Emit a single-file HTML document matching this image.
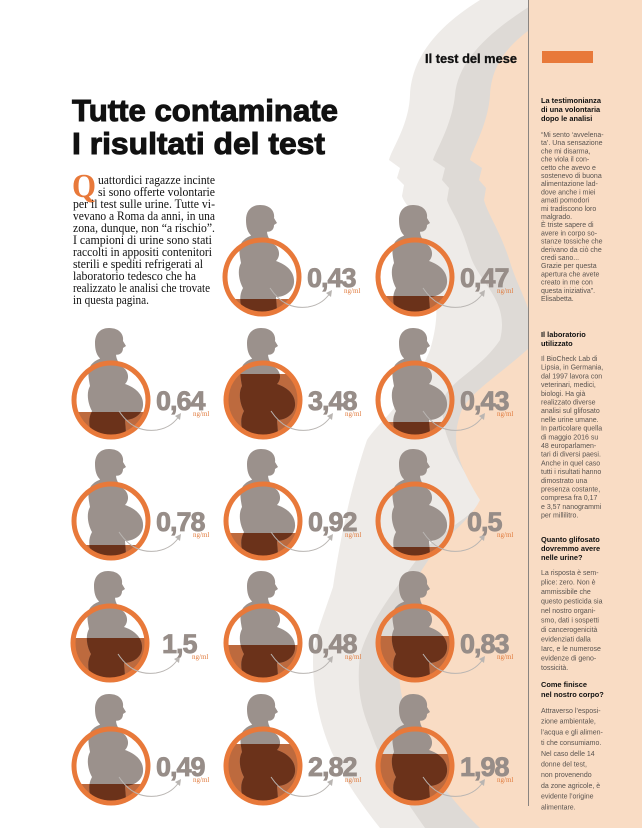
<!DOCTYPE html>
<html><head><meta charset="utf-8">
<style>
html,body{margin:0;padding:0;background:#fff;}
svg{display:block;}
.sb{font-family:"Liberation Sans",sans-serif;font-size:7px;fill:#5a5450;}
.sh{font-family:"Liberation Sans",sans-serif;font-size:7.4px;font-weight:bold;fill:#111;}
.num{font-family:"Liberation Sans",sans-serif;font-size:27px;font-weight:bold;fill:#978d88;stroke:#978d88;stroke-width:0.8;letter-spacing:-1px;}
.ng{font-family:"Liberation Serif",serif;font-size:7px;fill:#e07a3c;}
.p{font-family:"Liberation Serif",serif;font-size:12.2px;fill:#111;}
</style></head>
<body>
<svg width="642" height="828" viewBox="0 0 642 828" xmlns="http://www.w3.org/2000/svg">
<defs>
  <clipPath id="cc"><circle cx="0" cy="0" r="35"/></clipPath>
  <clipPath id="bc"><circle cx="0" cy="0" r="35"/><rect x="-60" y="-100" width="120" height="80"/></clipPath>
  <clipPath id="sc"><path d="M -7,-46 L 5,-46 C 5,-40 9,-35 14,-31 C 19,-25 17,-19 14,-16 C 26,-12 33,-4 32,6 C 31,15 22,20 14,20 L 16,45 L -16,45 C -20,32 -25,22 -19,11 C -23,4 -25,-7 -21,-14 C -23,-25 -25,-34 -14,-40 C -9,-42 -7,-44 -7,-46 Z"/></clipPath>
  <g id="sil" fill="#9b918c">
    <path d="M -7,-46 L 5,-46 C 5,-40 9,-35 14,-31 C 19,-25 17,-19 14,-16 C 26,-12 33,-4 32,6 C 31,15 22,20 14,20 L 16,45 L -16,45 C -20,32 -25,22 -19,11 C -23,4 -25,-7 -21,-14 C -23,-25 -25,-34 -14,-40 C -9,-42 -7,-44 -7,-46 Z"/>
    <path d="M -2,-72 C 9,-72 13,-65 12,-59 L 15,-54 L 12,-52 C 12,-46 7,-44 2,-46 L 5,-42 L -9,-40 C -15,-44 -16,-51 -16,-57 C -16,-66 -11,-72 -2,-72 Z"/>
  </g>
  <g id="arr" fill="none" stroke="#b9b5b2" stroke-width="1">
    <path d="M 8,11 C 18,26 30,32 46,30 C 58,28 64,22 69,15"/>
    <path d="M 64,16 L 70,13 L 69,20" fill="#b9b5b2" stroke="none"/>
  </g>
</defs>

<path fill="#eeebe8" d="M 480,0 C 440,25 412,55 410,95 C 409,125 392,148 389,160 L 400,168 L 397,178 L 404,185 L 402,196 C 405,206 417,212 422,240 C 430,280 445,300 430,350 C 410,400 380,420 367,440 C 350,490 340,540 333,587 C 322,620 313,640 313,660 C 313,690 318,710 322,725 C 332,760 350,790 380,828 L 642,828 L 642,0 Z"/>
<path fill="#dedad6" d="M 540,0 C 490,30 458,60 455,95 C 452,125 436,150 433,160 L 445,168 L 442,180 L 449,188 L 447,200 C 450,210 460,220 470,255 C 480,285 510,300 500,340 C 480,370 450,380 443,400 C 440,430 450,450 482,500 C 470,520 440,530 420,555 C 395,590 370,620 360,655 C 356,690 362,710 370,730 C 380,760 398,790 425,828 L 642,828 L 642,0 Z"/>
<path fill="#f9dcc4" d="M 580,0 C 520,30 492,55 490,95 C 488,125 472,150 470,160 L 482,168 L 479,180 L 486,188 L 484,200 C 488,215 500,230 510,262 C 520,295 540,320 530,347 C 500,375 465,395 460,415 C 452,440 455,460 480,500 C 470,520 448,535 433,553 C 415,580 402,600 400,625 C 396,650 397,680 407,720 C 418,750 440,790 480,828 L 642,828 L 642,0 Z"/>
<rect x="528" y="0" width="114" height="828" fill="#f9dcc4"/>
<line x1="528.5" y1="0" x2="528.5" y2="806" stroke="#8a8480" stroke-width="1"/>

<text x="425" y="63" font-family="Liberation Sans,sans-serif" font-size="13" font-weight="bold" fill="#111" stroke="#111" stroke-width="0.3" textLength="92" lengthAdjust="spacingAndGlyphs">Il test del mese</text>
<rect x="542" y="51" width="51" height="12" fill="#e8793a"/>

<text x="72" y="121" font-family="Liberation Sans,sans-serif" font-size="31" font-weight="bold" fill="#111" stroke="#111" stroke-width="1" textLength="266" lengthAdjust="spacingAndGlyphs">Tutte contaminate</text>
<text x="72" y="154" font-family="Liberation Sans,sans-serif" font-size="31" font-weight="bold" fill="#111" stroke="#111" stroke-width="1" textLength="253" lengthAdjust="spacingAndGlyphs">I risultati del test</text>

<text x="72" y="197" font-family="Liberation Serif,serif" font-size="34" font-weight="bold" fill="#e8793a" textLength="24" lengthAdjust="spacingAndGlyphs">Q</text>
<text class="p" x="98" y="184" textLength="117" lengthAdjust="spacingAndGlyphs">uattordici ragazze incinte</text>
<text class="p" x="98" y="196" textLength="117" lengthAdjust="spacingAndGlyphs">si sono offerte volontarie</text>
<text class="p" x="73" y="208" textLength="142" lengthAdjust="spacingAndGlyphs">per il test sulle urine. Tutte vi-</text>
<text class="p" x="73" y="220" textLength="142" lengthAdjust="spacingAndGlyphs">vevano a Roma da anni, in una</text>
<text class="p" x="73" y="232" textLength="142" lengthAdjust="spacingAndGlyphs">zona, dunque, non “a rischio”.</text>
<text class="p" x="73" y="244" textLength="139" lengthAdjust="spacingAndGlyphs">I campioni di urine sono stati</text>
<text class="p" x="73" y="256" textLength="139" lengthAdjust="spacingAndGlyphs">raccolti in appositi contenitori</text>
<text class="p" x="73" y="268" textLength="130" lengthAdjust="spacingAndGlyphs">sterili e spediti refrigerati al</text>
<text class="p" x="73" y="280" textLength="123" lengthAdjust="spacingAndGlyphs">laboratorio tedesco che ha</text>
<text class="p" x="73" y="292" textLength="137" lengthAdjust="spacingAndGlyphs">realizzato le analisi che trovate</text>
<text class="p" x="73" y="304" textLength="76" lengthAdjust="spacingAndGlyphs">in questa pagina.</text>

<g transform="translate(262,277)">
 <g clip-path="url(#cc)"><rect x="-40" y="22" width="80" height="60" fill="#bd6a3e"/></g>
 <g clip-path="url(#bc)"><use href="#sil"/></g>
 <g clip-path="url(#cc)"><g clip-path="url(#sc)"><rect x="-40" y="22" width="80" height="60" fill="#6b321a"/></g></g>
 <circle r="37" fill="none" stroke="#e8793a" stroke-width="5"/>
 <use href="#arr"/>
 <text class="num" x="45" y="10">0,43</text><text class="ng" x="82" y="16">ng/ml</text>
</g>
<g transform="translate(415,277)">
 <g clip-path="url(#cc)"><rect x="-40" y="19" width="80" height="60" fill="#bd6a3e"/></g>
 <g clip-path="url(#bc)"><use href="#sil"/></g>
 <g clip-path="url(#cc)"><g clip-path="url(#sc)"><rect x="-40" y="19" width="80" height="60" fill="#6b321a"/></g></g>
 <circle r="37" fill="none" stroke="#e8793a" stroke-width="5"/>
 <use href="#arr"/>
 <text class="num" x="45" y="10">0,47</text><text class="ng" x="82" y="16">ng/ml</text>
</g>

<g transform="translate(111,400)">
 <g clip-path="url(#cc)"><rect x="-40" y="12" width="80" height="60" fill="#bd6a3e"/></g>
 <g clip-path="url(#bc)"><use href="#sil"/></g>
 <g clip-path="url(#cc)"><g clip-path="url(#sc)"><rect x="-40" y="12" width="80" height="60" fill="#6b321a"/></g></g>
 <circle r="37" fill="none" stroke="#e8793a" stroke-width="5"/>
 <use href="#arr"/>
 <text class="num" x="45" y="10">0,64</text><text class="ng" x="82" y="16">ng/ml</text>
</g>
<g transform="translate(263,400)">
 <g clip-path="url(#cc)"><rect x="-40" y="-26" width="80" height="80" fill="#bd6a3e"/></g>
 <g clip-path="url(#bc)"><use href="#sil"/></g>
 <g clip-path="url(#cc)"><g clip-path="url(#sc)"><rect x="-40" y="-26" width="80" height="80" fill="#6b321a"/></g></g>
 <circle r="37" fill="none" stroke="#e8793a" stroke-width="5"/>
 <use href="#arr"/>
 <text class="num" x="45" y="10">3,48</text><text class="ng" x="82" y="16">ng/ml</text>
</g>
<g transform="translate(415,400)">
 <g clip-path="url(#cc)"><rect x="-40" y="22" width="80" height="60" fill="#bd6a3e"/></g>
 <g clip-path="url(#bc)"><use href="#sil"/></g>
 <g clip-path="url(#cc)"><g clip-path="url(#sc)"><rect x="-40" y="22" width="80" height="60" fill="#6b321a"/></g></g>
 <circle r="37" fill="none" stroke="#e8793a" stroke-width="5"/>
 <use href="#arr"/>
 <text class="num" x="45" y="10">0,43</text><text class="ng" x="82" y="16">ng/ml</text>
</g>

<g transform="translate(111,521)">
 <g clip-path="url(#cc)"><rect x="-40" y="24" width="80" height="60" fill="#bd6a3e"/></g>
 <g clip-path="url(#bc)"><use href="#sil"/></g>
 <g clip-path="url(#cc)"><g clip-path="url(#sc)"><rect x="-40" y="24" width="80" height="60" fill="#6b321a"/></g></g>
 <circle r="37" fill="none" stroke="#e8793a" stroke-width="5"/>
 <use href="#arr"/>
 <text class="num" x="45" y="10">0,78</text><text class="ng" x="82" y="16">ng/ml</text>
</g>
<g transform="translate(263,521)">
 <g clip-path="url(#cc)"><rect x="-40" y="12" width="80" height="60" fill="#bd6a3e"/></g>
 <g clip-path="url(#bc)"><use href="#sil"/></g>
 <g clip-path="url(#cc)"><g clip-path="url(#sc)"><rect x="-40" y="12" width="80" height="60" fill="#6b321a"/></g></g>
 <circle r="37" fill="none" stroke="#e8793a" stroke-width="5"/>
 <use href="#arr"/>
 <text class="num" x="45" y="10">0,92</text><text class="ng" x="82" y="16">ng/ml</text>
</g>
<g transform="translate(415,521)">
 <g clip-path="url(#cc)"><rect x="-40" y="26" width="80" height="60" fill="#bd6a3e"/></g>
 <g clip-path="url(#bc)"><use href="#sil"/></g>
 <g clip-path="url(#cc)"><g clip-path="url(#sc)"><rect x="-40" y="26" width="80" height="60" fill="#6b321a"/></g></g>
 <circle r="37" fill="none" stroke="#e8793a" stroke-width="5"/>
 <use href="#arr"/>
 <text class="num" x="52" y="10">0,5</text><text class="ng" x="82" y="16">ng/ml</text>
</g>

<g transform="translate(110,643)">
 <g clip-path="url(#cc)"><rect x="-40" y="-5" width="80" height="60" fill="#bd6a3e"/></g>
 <g clip-path="url(#bc)"><use href="#sil"/></g>
 <g clip-path="url(#cc)"><g clip-path="url(#sc)"><rect x="-40" y="-5" width="80" height="60" fill="#6b321a"/></g></g>
 <circle r="37" fill="none" stroke="#e8793a" stroke-width="5"/>
 <use href="#arr"/>
 <text class="num" x="52" y="10">1,5</text><text class="ng" x="82" y="16">ng/ml</text>
</g>
<g transform="translate(263,643)">
 <g clip-path="url(#cc)"><rect x="-40" y="2" width="80" height="60" fill="#bd6a3e"/></g>
 <g clip-path="url(#bc)"><use href="#sil"/></g>
 <g clip-path="url(#cc)"><g clip-path="url(#sc)"><rect x="-40" y="2" width="80" height="60" fill="#6b321a"/></g></g>
 <circle r="37" fill="none" stroke="#e8793a" stroke-width="5"/>
 <use href="#arr"/>
 <text class="num" x="45" y="10">0,48</text><text class="ng" x="82" y="16">ng/ml</text>
</g>
<g transform="translate(415,643)">
 <g clip-path="url(#cc)"><rect x="-40" y="-7" width="80" height="60" fill="#bd6a3e"/></g>
 <g clip-path="url(#bc)"><use href="#sil"/></g>
 <g clip-path="url(#cc)"><g clip-path="url(#sc)"><rect x="-40" y="-7" width="80" height="60" fill="#6b321a"/></g></g>
 <circle r="37" fill="none" stroke="#e8793a" stroke-width="5"/>
 <use href="#arr"/>
 <text class="num" x="45" y="10">0,83</text><text class="ng" x="82" y="16">ng/ml</text>
</g>

<g transform="translate(111,766)">
 <g clip-path="url(#cc)"><rect x="-40" y="18" width="80" height="60" fill="#bd6a3e"/></g>
 <g clip-path="url(#bc)"><use href="#sil"/></g>
 <g clip-path="url(#cc)"><g clip-path="url(#sc)"><rect x="-40" y="18" width="80" height="60" fill="#6b321a"/></g></g>
 <circle r="37" fill="none" stroke="#e8793a" stroke-width="5"/>
 <use href="#arr"/>
 <text class="num" x="45" y="10">0,49</text><text class="ng" x="82" y="16">ng/ml</text>
</g>
<g transform="translate(263,766)">
 <g clip-path="url(#cc)"><rect x="-40" y="-22" width="80" height="80" fill="#bd6a3e"/></g>
 <g clip-path="url(#bc)"><use href="#sil"/></g>
 <g clip-path="url(#cc)"><g clip-path="url(#sc)"><rect x="-40" y="-22" width="80" height="80" fill="#6b321a"/></g></g>
 <circle r="37" fill="none" stroke="#e8793a" stroke-width="5"/>
 <use href="#arr"/>
 <text class="num" x="45" y="10">2,82</text><text class="ng" x="82" y="16">ng/ml</text>
</g>
<g transform="translate(415,766)">
 <g clip-path="url(#cc)"><rect x="-40" y="-12" width="80" height="80" fill="#bd6a3e"/></g>
 <g clip-path="url(#bc)"><use href="#sil"/></g>
 <g clip-path="url(#cc)"><g clip-path="url(#sc)"><rect x="-40" y="-12" width="80" height="80" fill="#6b321a"/></g></g>
 <circle r="37" fill="none" stroke="#e8793a" stroke-width="5"/>
 <use href="#arr"/>
 <text class="num" x="45" y="10">1,98</text><text class="ng" x="82" y="16">ng/ml</text>
</g>

<text class="sh" x="541" y="103">La testimonianza</text>
<text class="sh" x="541" y="112">di una volontaria</text>
<text class="sh" x="541" y="121">dopo le analisi</text>
<g class="sb">
<text x="541" y="137">“Mi sento ‘avvelena-</text>
<text x="541" y="145.2">ta’. Una sensazione</text>
<text x="541" y="153.4">che mi disarma,</text>
<text x="541" y="161.6">che viola il con-</text>
<text x="541" y="169.8">cetto che avevo e</text>
<text x="541" y="178">sostenevo di buona</text>
<text x="541" y="186.2">alimentazione lad-</text>
<text x="541" y="194.4">dove anche i miei</text>
<text x="541" y="202.6">amati pomodori</text>
<text x="541" y="210.8">mi tradiscono loro</text>
<text x="541" y="219">malgrado.</text>
<text x="541" y="227.2">È triste sapere di</text>
<text x="541" y="235.4">avere in corpo so-</text>
<text x="541" y="243.6">stanze tossiche che</text>
<text x="541" y="251.8">derivano da ciò che</text>
<text x="541" y="260">credi sano...</text>
<text x="541" y="268.2">Grazie per questa</text>
<text x="541" y="276.4">apertura che avete</text>
<text x="541" y="284.6">creato in me con</text>
<text x="541" y="292.8">questa iniziativa”.</text>
<text x="541" y="301">Elisabetta.</text>
</g>

<text class="sh" x="541" y="337">Il laboratorio</text>
<text class="sh" x="541" y="346">utilizzato</text>
<g class="sb">
<text x="541" y="361">Il BioCheck Lab di</text>
<text x="541" y="369.7">Lipsia, in Germania,</text>
<text x="541" y="378.4">dal 1997 lavora con</text>
<text x="541" y="387.1">veterinari, medici,</text>
<text x="541" y="395.8">biologi. Ha già</text>
<text x="541" y="404.5">realizzato diverse</text>
<text x="541" y="413.2">analisi sul glifosato</text>
<text x="541" y="421.9">nelle urine umane.</text>
<text x="541" y="430.6">In particolare quella</text>
<text x="541" y="439.3">di maggio 2016 su</text>
<text x="541" y="448">48 europarlamen-</text>
<text x="541" y="456.7">tari di diversi paesi.</text>
<text x="541" y="465.4">Anche in quel caso</text>
<text x="541" y="474.1">tutti i risultati hanno</text>
<text x="541" y="482.8">dimostrato una</text>
<text x="541" y="491.5">presenza costante,</text>
<text x="541" y="500.2">compresa fra 0,17</text>
<text x="541" y="508.9">e 3,57 nanogrammi</text>
<text x="541" y="517.6">per millilitro.</text>
</g>

<text class="sh" x="541" y="542">Quanto glifosato</text>
<text class="sh" x="541" y="551">dovremmo avere</text>
<text class="sh" x="541" y="560">nelle urine?</text>
<g class="sb">
<text x="541" y="575">La risposta è sem-</text>
<text x="541" y="584.5">plice: zero. Non è</text>
<text x="541" y="594">ammissibile che</text>
<text x="541" y="603.5">questo pesticida sia</text>
<text x="541" y="613">nel nostro organi-</text>
<text x="541" y="622.5">smo, dati i sospetti</text>
<text x="541" y="632">di cancerogenicità</text>
<text x="541" y="641.5">evidenziati dalla</text>
<text x="541" y="651">Iarc, e le numerose</text>
<text x="541" y="660.5">evidenze di geno-</text>
<text x="541" y="670">tossicità.</text>
</g>

<text class="sh" x="541" y="687">Come finisce</text>
<text class="sh" x="541" y="697">nel nostro corpo?</text>
<g class="sb">
<text x="541" y="713">Attraverso l’esposi-</text>
<text x="541" y="723.7">zione ambientale,</text>
<text x="541" y="734.4">l’acqua e gli alimen-</text>
<text x="541" y="745.1">ti che consumiamo.</text>
<text x="541" y="755.8">Nel caso delle 14</text>
<text x="541" y="766.5">donne del test,</text>
<text x="541" y="777.2">non provenendo</text>
<text x="541" y="787.9">da zone agricole, è</text>
<text x="541" y="798.6">evidente l’origine</text>
<text x="541" y="809.3">alimentare.</text>
</g>
</svg>
</body></html>
